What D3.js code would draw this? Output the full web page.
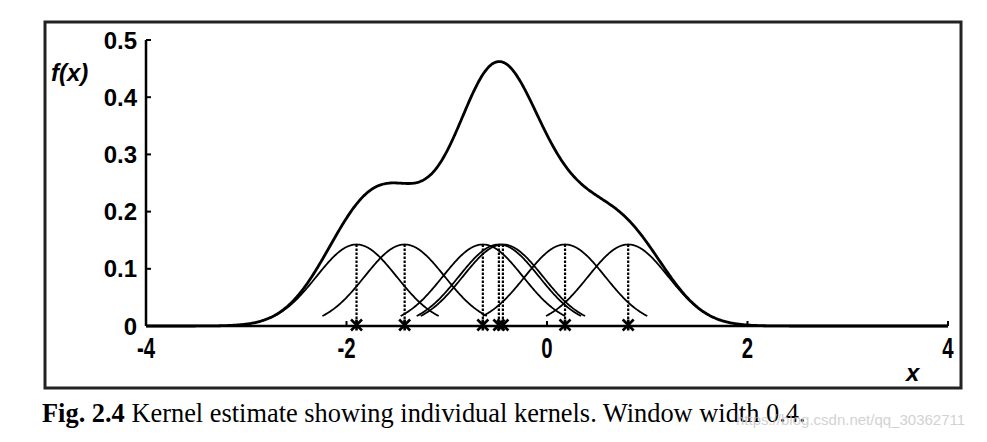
<!DOCTYPE html>
<html><head><meta charset="utf-8">
<script src="https://cdn.jsdelivr.net/npm/d3@7"></script>
<style>html,body{margin:0;padding:0;background:#fff;}svg{display:block;}</style>
</head><body>
<svg id="c" width="987" height="442"></svg>
<script>
// ---- data ----
const samples = [-1.90, -1.42, -0.64, -0.48, -0.44, 0.18, 0.81];
const bandwidth = 0.4;
const xTicks = [-4, -2, 0, 2, 4];
const yTicks = [0, 0.1, 0.2, 0.3, 0.4, 0.5];
const yTickLabels = ["0", "0.1", "0.2", "0.3", "0.4", "0.5"];
const kernelHalfSpan = 0.82;
const caption = ["Fig. 2.4", " Kernel estimate showing individual kernels. Window width 0.4."];
const watermark = "https://blog.csdn.net/qq_30362711";

const svg = d3.select("#c");
const x = d3.scaleLinear().domain([-4, 4]).range([146, 948]);
const y = d3.scaleLinear().domain([0, 0.5]).range([326, 40]);

const n = samples.length;
const k = (u, c) => Math.exp(-0.5 * ((u - c) / bandwidth) ** 2) / (bandwidth * Math.sqrt(2 * Math.PI) * n);
const dens = u => d3.sum(samples, c => k(u, c));

// frame
svg.append("rect").attr("x", 45).attr("y", 22).attr("width", 916).attr("height", 366)
  .attr("fill", "#fff").attr("stroke", "#222").attr("stroke-width", 3);

const line = d3.line().x(d => x(d[0])).y(d => y(d[1])).curve(d3.curveLinear);

// axes
svg.append("path").attr("d", `M${x(-4)},${y(0)}H${x(4)}`).attr("stroke", "#000").attr("stroke-width", 2.5).attr("fill", "none");
svg.append("path").attr("d", `M${x(-4)},${y(0)}V${y(0.5)}`).attr("stroke", "#000").attr("stroke-width", 2.5).attr("fill", "none");
xTicks.forEach(t => {
  svg.append("line").attr("x1", x(t)).attr("x2", x(t)).attr("y1", y(0)).attr("y2", y(0) - 5)
    .attr("stroke", "#000").attr("stroke-width", 2);
  svg.append("text").attr("x", x(t)).attr("y", 358)
    .attr("text-anchor", "middle").attr("font-family", "Liberation Sans, Arial, sans-serif")
    .attr("font-weight", "bold").attr("font-size", 24)
    .attr("transform", `translate(${x(t)},358) scale(0.85,1.2) translate(${-x(t)},-358)`)
    .text(t < 0 ? "-" + Math.abs(t) : String(t));
});
yTicks.forEach((t, i) => {
  svg.append("line").attr("x1", x(-4)).attr("x2", x(-4) + 5).attr("y1", y(t)).attr("y2", y(t))
    .attr("stroke", "#000").attr("stroke-width", 2);
  svg.append("text").attr("x", 137).attr("y", y(t)).attr("dy", "0.36em")
    .attr("text-anchor", "end").attr("font-family", "Liberation Sans, Arial, sans-serif")
    .attr("font-weight", "bold").attr("font-size", 24)
    .text(yTickLabels[i]);
});

// axis titles
svg.append("text").attr("x", 51).attr("y", 81).attr("font-family", "Liberation Sans, Arial, sans-serif")
  .attr("font-weight", "bold").attr("font-style", "italic").attr("font-size", 24).text("f(x)");
svg.append("text").attr("x", 906).attr("y", 381).attr("font-family", "Liberation Sans, Arial, sans-serif")
  .attr("font-weight", "bold").attr("font-style", "italic").attr("font-size", 24).text("x");

// individual kernels
samples.forEach(c => {
  const pts = d3.range(c - kernelHalfSpan, c + kernelHalfSpan + 1e-9, 0.01).map(u => [u, k(u, c)]);
  svg.append("path").attr("d", line(pts)).attr("fill", "none").attr("stroke", "#000").attr("stroke-width", 1.8);
  svg.append("line").attr("x1", x(c)).attr("x2", x(c)).attr("y1", y(k(c, c))).attr("y2", y(0))
    .attr("stroke", "#000").attr("stroke-width", 2.2).attr("stroke-dasharray", "2.5,1.5");
  const cx = x(c), cy = y(0) - 1, s = 5.5;
  svg.append("path").attr("d", `M${cx - s},${cy - s}L${cx + s},${cy + s}M${cx + s},${cy - s}L${cx - s},${cy + s}M${cx},${cy - s}V${cy + s}`)
    .attr("stroke", "#000").attr("stroke-width", 2.6).attr("fill", "none");
});

// total density
const dpts = d3.range(-4, 4.0001, 0.01).map(u => [u, dens(u)]);
svg.append("path").attr("d", line(dpts)).attr("fill", "none").attr("stroke", "#000").attr("stroke-width", 2.8);

// caption
const cap = svg.append("text").attr("x", 42).attr("y", 422)
  .attr("font-family", "Liberation Serif, Times New Roman, serif").attr("font-size", 27).attr("fill", "#000");
cap.append("tspan").attr("font-weight", "bold").text(caption[0]);
cap.append("tspan").text(caption[1]);
const w = cap.node().getComputedTextLength();
const target = 806 - 42;
cap.attr("transform", `translate(42,0) scale(${target / w},1) translate(-42,0)`);

svg.append("text").attr("x", 736).attr("y", 425).attr("font-family", "Liberation Sans, Arial, sans-serif")
  .attr("font-size", 15).attr("fill", "#c8c8c8").attr("opacity", 0.8).text(watermark);
</script>
</body></html>
